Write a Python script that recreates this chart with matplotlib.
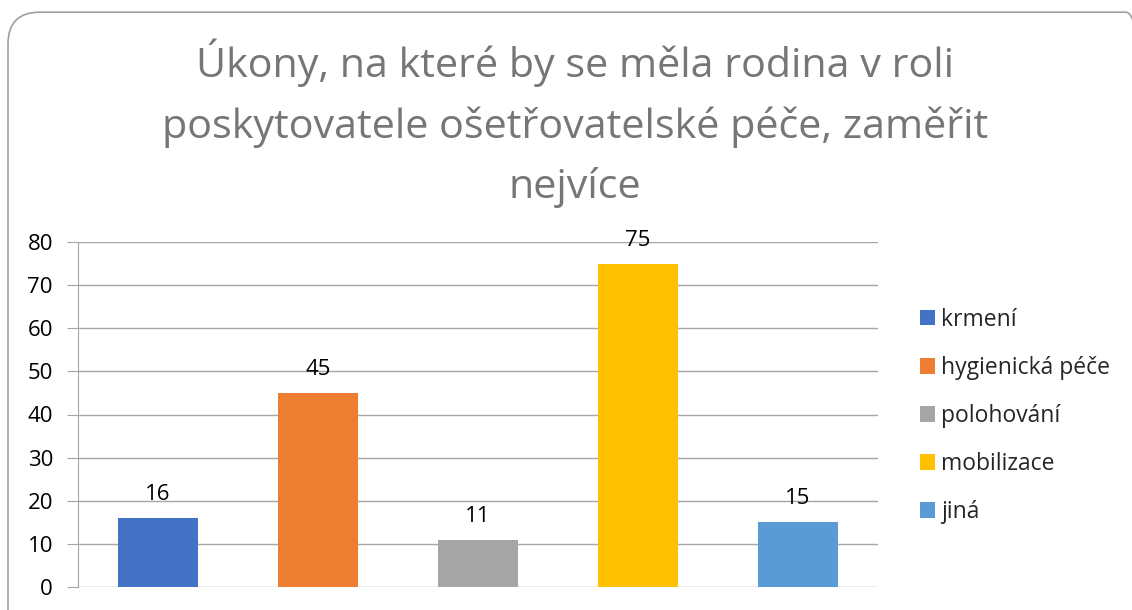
import matplotlib.pyplot as plt
from matplotlib.patches import FancyBboxPatch, Patch

# data
categories = ['krmení', 'hygienická péče', 'polohování', 'mobilizace', 'jiná']
values = [16, 45, 11, 75, 15]
colors = ['#4472C4', '#ED7D31', '#A5A5A5', '#FFC000', '#5B9BD5']
title = 'Úkony, na které by se měla rodina v roli\nposkytovatele ošetřovatelské péče, zaměřit\nnejvíce'

plt.rcParams['font.family'] = ['Open Sans', 'DejaVu Sans']

fig = plt.figure(figsize=(11.32, 6.1), dpi=100)

# rounded frame of the chart (runs off the right and bottom edge)
frame = FancyBboxPatch((8 / 1132, -0.2), 1150 / 1132, 0.98 + 0.2,
                       boxstyle='round,pad=0,rounding_size=0.028',
                       transform=fig.transFigure, fill=False,
                       edgecolor='#A0A0A0', linewidth=1.2,
                       mutation_aspect=1132 / 610)
fig.patches.append(frame)

fig.text(0.508, 0.937, title, ha='center', va='top', fontsize=29.7,
         color='#767676', linespacing=1.62)

ax = fig.add_axes([78 / 1132, 23 / 610, 800 / 1132, 345 / 610])
x = range(len(categories))
bars = ax.bar(x, values, width=0.5, color=colors, zorder=3)
for xi, v in zip(x, values):
    ax.text(xi, v + 3, str(v), ha='center', va='bottom', fontsize=16, color='black')

ax.set_xlim(-0.5, 4.5)
ax.set_ylim(0, 80)
ax.set_yticks(range(0, 81, 10))
ax.set_xticks([])
ax.grid(axis='y', color='#A6A6A6', linewidth=1, zorder=0)
for s in ['top', 'right', 'bottom']:
    ax.spines[s].set_visible(False)
ax.spines['left'].set_color('#A6A6A6')
ax.tick_params(axis='y', length=8, color='#A6A6A6', labelsize=16, pad=10)

handles = [Patch(facecolor=c) for c in colors]
fig.legend(handles, categories, loc='center left', bbox_to_anchor=(899 / 1132, 1 - 416 / 610),
           frameon=False, fontsize=16.5, handlelength=0.65, handleheight=0.65,
           handletextpad=0.3, labelspacing=1.05, labelcolor='#262626')

fig.savefig('out.png', dpi=100)
